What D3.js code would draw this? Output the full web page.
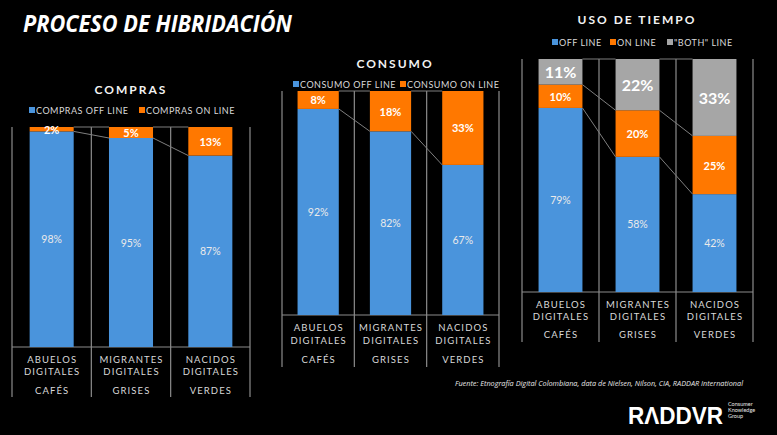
<!DOCTYPE html>
<html><head><meta charset="utf-8">
<script src="https://cdn.jsdelivr.net/npm/d3@7"></script>
<style>
html,body{margin:0;padding:0;background:#000;}
svg{display:block;}
</style></head>
<body>
<svg id="c" width="777" height="435"></svg>
<script>
// ---- DATA ----
const catLine1 = ["ABUELOS", "MIGRANTES", "NACIDOS"];
const catLine2 = ["DIGITALES", "DIGITALES", "DIGITALES"];
const catLine3 = ["CAFÉS", "GRISES", "VERDES"];

const comprasOff = [98, 95, 87];
const comprasOn = [2, 5, 13];
const consumoOff = [92, 82, 67];
const consumoOn = [8, 18, 33];
const tiempoOff = [79, 58, 42];
const tiempoOn = [10, 20, 25];
const tiempoBoth = [11, 22, 33];

const mainTitle = "PROCESO DE HIBRIDACIÓN";
const sourceText = "Fuente: Etnografía Digital Colombiana, data de Nielsen, Nilson, CIA, RADDAR International";

// ---- STYLE ----
const BLUE = "#4a94dc", ORANGE = "#ff7800", GRAY = "#a6a6a6", LINE = "#7f7f7f";
const FONT = "Lato, 'Open Sans', sans-serif";

const svg = d3.select("#c");
svg.append("rect").attr("width", 777).attr("height", 435).attr("fill", "#000");

svg.append("text").attr("x", 23).attr("y", 32)
  .attr("font-family", "'Open Sans', Lato, sans-serif").attr("font-weight", 700).attr("font-style", "italic")
  .attr("font-size", 23).attr("fill", "#fff").attr("textLength", 269).attr("lengthAdjust", "spacingAndGlyphs")
  .text(mainTitle);

function drawChart(cfg) {
  const g = svg.append("g");
  const cats = catLine1.map((d, i) => i);
  const x = d3.scaleBand().domain(cats).range([cfg.x0, cfg.x1]).padding(0);
  const y = d3.scaleLinear().domain([0, 100]).range([cfg.yBottom, cfg.yTop]);
  const bw = x.bandwidth() * cfg.barFrac;
  const rows = cats.map(i => {
    const r = {};
    cfg.series.forEach(s => r[s.key] = s.values[i]);
    return r;
  });
  const stack = d3.stack().keys(cfg.series.map(s => s.key))(rows);

  // title
  g.append("text").attr("x", cfg.titleX).attr("y", cfg.titleY).attr("text-anchor", "middle")
    .attr("dominant-baseline", "central")
    .attr("font-family", FONT).attr("font-weight", 700).attr("font-size", 12)
    .attr("letter-spacing", 2).attr("fill", "#f2f2f2").text(cfg.title);

  // legend
  cfg.series.forEach((s, i) => {
    const lx = cfg.legendX[i];
    g.append("rect").attr("x", lx).attr("y", cfg.legendY - 3).attr("width", 6).attr("height", 6).attr("fill", s.color);
    g.append("text").attr("x", lx + 7).attr("y", cfg.legendY).attr("dominant-baseline", "central")
      .attr("font-family", FONT).attr("font-size", 9).attr("letter-spacing", 0.5)
      .attr("fill", "#d9d9d9").text(s.label);
  });

  // separators
  const bounds = cats.map(i => x(i)).concat([x.range()[1]]);
  g.selectAll("line.sep").data(bounds).join("line")
    .attr("x1", d => d).attr("x2", d => d).attr("y1", cfg.yTop).attr("y2", cfg.sepBottom)
    .attr("stroke", "#8c8c8c").attr("stroke-width", 1.2);
  g.append("line").attr("x1", cfg.x0).attr("x2", cfg.x1).attr("y1", cfg.yBottom).attr("y2", cfg.yBottom)
    .attr("stroke", "#8c8c8c").attr("stroke-width", 1.2);

  // bars
  stack.forEach((layer, li) => {
    const s = cfg.series[li];
    g.selectAll(null).data(layer).join("rect")
      .attr("x", (d, i) => x(i) + (x.bandwidth() - bw) / 2)
      .attr("width", bw)
      .attr("y", d => y(d[1]))
      .attr("height", d => y(d[0]) - y(d[1]))
      .attr("fill", s.color);
  });

  // series lines
  stack.forEach(layer => {
    for (let i = 0; i < layer.length - 1; i++) {
      g.append("line")
        .attr("x1", x(i) + (x.bandwidth() + bw) / 2).attr("y1", y(layer[i][1]))
        .attr("x2", x(i + 1) + (x.bandwidth() - bw) / 2).attr("y2", y(layer[i + 1][1]))
        .attr("stroke", LINE).attr("stroke-width", 1);
    }
  });

  // value labels
  stack.forEach((layer, li) => {
    const s = cfg.series[li];
    g.selectAll(null).data(layer).join("text")
      .attr("x", (d, i) => x(i) + x.bandwidth() / 2)
      .attr("y", d => (y(d[0]) + y(d[1])) / 2)
      .attr("text-anchor", "middle").attr("dominant-baseline", "central")
      .attr("font-family", FONT).attr("font-weight", s.weight).attr("font-size", s.size)
      .attr("fill", s.textColor).text(d => (d[1] - d[0]) + "%");
  });

  // category labels
  [catLine1, catLine2, catLine3].forEach((arr, k) => {
    g.selectAll(null).data(arr).join("text")
      .attr("x", (d, i) => x(i) + x.bandwidth() / 2 + 0.5)
      .attr("y", cfg.catY[k]).attr("text-anchor", "middle").attr("dominant-baseline", "central")
      .attr("font-family", FONT).attr("font-size", 9.5).attr("letter-spacing", 1.1)
      .attr("fill", "#d9d9d9").text(d => d);
  });
}

drawChart({
  title: "COMPRAS", titleX: 131, titleY: 89,
  x0: 12, x1: 250, yTop: 127, yBottom: 347, sepBottom: 397, barFrac: 0.555,
  legendY: 110, legendX: [29, 139],
  catY: [359, 371, 390],
  series: [
    { key: "off", label: "COMPRAS OFF LINE", values: comprasOff, color: BLUE, weight: 400, size: 10.5, textColor: "#eaeaea" },
    { key: "on", label: "COMPRAS ON LINE", values: comprasOn, color: ORANGE, weight: 700, size: 11, textColor: "#fff" }
  ]
});

drawChart({
  title: "CONSUMO", titleX: 395, titleY: 63,
  x0: 282, x1: 499, yTop: 91, yBottom: 315, sepBottom: 367, barFrac: 0.57,
  legendY: 84, legendX: [293, 400],
  catY: [327, 340, 359],
  series: [
    { key: "off", label: "CONSUMO OFF LINE", values: consumoOff, color: BLUE, weight: 400, size: 10.5, textColor: "#eaeaea" },
    { key: "on", label: "CONSUMO ON LINE", values: consumoOn, color: ORANGE, weight: 700, size: 11, textColor: "#fff" }
  ]
});

drawChart({
  title: "USO DE TIEMPO", titleX: 637, titleY: 19,
  x0: 522, x1: 753, yTop: 59, yBottom: 292, sepBottom: 342, barFrac: 0.57,
  legendY: 42, legendX: [552, 610, 667],
  catY: [304, 316, 334],
  series: [
    { key: "off", label: "OFF LINE", values: tiempoOff, color: BLUE, weight: 400, size: 10.5, textColor: "#eaeaea" },
    { key: "on", label: "ON LINE", values: tiempoOn, color: ORANGE, weight: 700, size: 11, textColor: "#fff" },
    { key: "both", label: "\"BOTH\" LINE", values: tiempoBoth, color: GRAY, weight: 700, size: 16, textColor: "#fff" }
  ]
});

// source + logo
svg.append("text").attr("x", 743).attr("y", 383).attr("text-anchor", "end").attr("dominant-baseline", "central")
  .attr("font-family", "'Open Sans', sans-serif").attr("font-style", "italic").attr("font-size", 7.3)
  .attr("fill", "#e6e6e6").text(sourceText);
svg.append("text").attr("x", 628).attr("y", 424)
  .attr("font-family", "'Liberation Sans', sans-serif").attr("font-weight", 700).attr("font-size", 23)
  .attr("fill", "#fff").attr("textLength", 95).attr("lengthAdjust", "spacingAndGlyphs").text("RΛDDVR");
["Consumer", "Knowledge", "Group"].forEach((t, i) => {
  svg.append("text").attr("x", 728).attr("y", 406 + i * 6).attr("font-family", FONT)
    .attr("font-size", 5.5).attr("fill", "#e6e6e6").text(t);
});
</script>
</body></html>
